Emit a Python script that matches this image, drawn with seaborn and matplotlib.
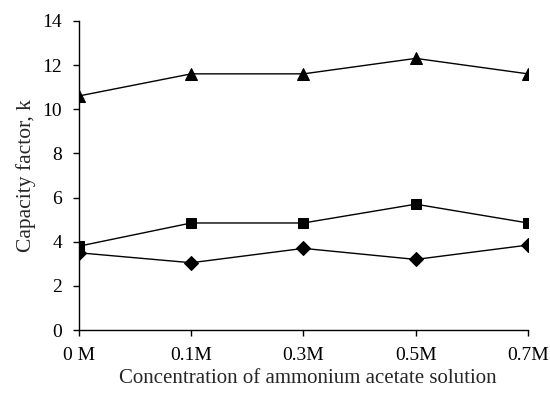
import pandas as pd
import matplotlib
matplotlib.use("Agg")
import matplotlib.pyplot as plt
import seaborn as sns

# data
concentrations = ["0 M", "0.1M", "0.3M", "0.5M", "0.7M"]
triangle_k = [10.6, 11.6, 11.6, 12.3, 11.6]
square_k = [3.8, 4.85, 4.85, 5.7, 4.85]
diamond_k = [3.5, 3.05, 3.7, 3.2, 3.85]

sns.set_style("ticks")
plt.rcParams["font.family"] = ["Liberation Serif", "DejaVu Serif"]

fig = plt.figure(figsize=(5.5, 3.93), dpi=100)
ax = fig.add_axes([0.1436, 0.160, 0.8164, 0.787])

pos = list(range(len(concentrations)))
for vals, mk, ms in [(triangle_k, "^", 8), (square_k, "s", 7), (diamond_k, "D", 7)]:
    df = pd.DataFrame({"x": pos, "k": vals})
    sns.lineplot(data=df, x="x", y="k", ax=ax, color="black", linewidth=1,
                 marker=mk, markersize=ms, markeredgecolor="black")

ax.set_xlim(0, 4)
ax.set_ylim(0, 14)
ax.set_xticks(pos)
ax.set_xticklabels(concentrations)
ax.set_yticks(range(0, 15, 2))
ax.tick_params(labelsize=14, direction="out", length=4, width=1, colors="black")
ax.tick_params(axis="x", pad=8)
ax.tick_params(axis="y", pad=8)
ax.set_xlabel("Concentration of ammonium acetate solution", fontsize=15, labelpad=3)
ax.set_ylabel("Capacity factor, k", fontsize=15.5, labelpad=5)
ax.xaxis.set_label_coords(0.509, -0.125)
sns.despine(ax=ax)
for s in ["left", "bottom"]:
    ax.spines[s].set_linewidth(1)
    ax.spines[s].set_color("black")

fig.savefig("out.png", dpi=100)
